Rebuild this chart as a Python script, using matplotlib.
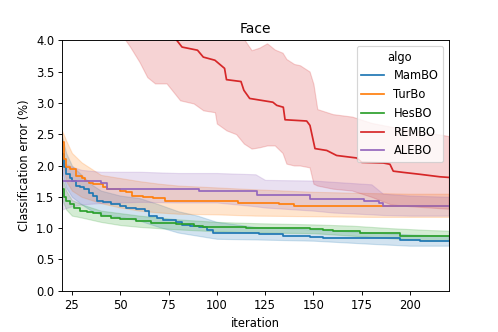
import numpy as np
import matplotlib
matplotlib.use("Agg")
import matplotlib.pyplot as plt


# ─── Data ─────────────────────────────────────────────────────────────────────
#
# Mean curves are stored as breakpoints (iteration, value).
# Confidence bands are stored as (iteration, lower, upper) samples.

algos  = ["MamBO", "TurBo", "HesBO", "REMBO", "ALEBO"]
colors = ["#1f77b4", "#ff7f0e", "#2ca02c", "#d62728", "#9467bd"]
styles = ["steps-post", "steps-post", "steps-post", "default", "steps-post"]

mambo_it  = [20, 21, 22, 24, 25, 27, 29, 31, 34, 36, 38, 41, 45, 50, 53, 58, 63, 65, 69, 72,
             79, 82, 86, 91, 95, 98, 115, 122, 134, 148, 155, 174, 195, 205, 220]
mambo_val = [2.19, 1.97, 1.87, 1.80, 1.76, 1.68, 1.65, 1.63, 1.56, 1.52, 1.44, 1.41, 1.39, 1.36,
             1.32, 1.30, 1.27, 1.20, 1.16, 1.13, 1.10, 1.05, 1.03, 1.02, 0.97, 0.93, 0.92, 0.91,
             0.88, 0.86, 0.85, 0.84, 0.81, 0.80, 0.80]

turbo_it  = [20, 21, 22, 24, 27, 30, 32, 34, 36, 41, 43, 50, 53, 56, 62, 67, 73, 111, 132, 140, 220]
turbo_val = [2.37, 2.10, 1.97, 1.95, 1.84, 1.80, 1.76, 1.72, 1.70, 1.65, 1.63, 1.60, 1.57, 1.52,
             1.50, 1.48, 1.43, 1.40, 1.38, 1.36, 1.36]

hesbo_it  = [20, 21, 22, 24, 26, 29, 33, 36, 40, 45, 50, 54, 58, 62, 66, 71, 79, 88, 93, 115,
             131, 148, 155, 160, 174, 195, 220]
hesbo_val = [1.63, 1.50, 1.44, 1.38, 1.32, 1.28, 1.26, 1.24, 1.20, 1.17, 1.15, 1.14, 1.12, 1.11,
             1.09, 1.08, 1.06, 1.04, 1.02, 1.01, 1.00, 0.99, 0.97, 0.95, 0.92, 0.88, 0.88]

# REMBO is drawn as a plain polyline through its corners (many small steps)
rembo_it  = [20, 50, 70, 78, 79.2, 82, 90, 93, 99, 104, 105, 112.5, 114, 117, 129, 131, 134.4,
             135.3, 146.5, 148.2, 150.8, 156.9, 162, 172.4, 175, 186.2, 189.6, 191.3, 196.5,
             205, 215.4, 220]
rembo_val = [5.30, 4.60, 4.25, 4.08, 4.00, 3.89, 3.84, 3.73, 3.68, 3.55, 3.37, 3.34, 3.20, 3.07,
             3.01, 2.96, 2.93, 2.73, 2.71, 2.64, 2.27, 2.24, 2.16, 2.12, 2.05, 2.04, 2.02, 1.91,
             1.89, 1.86, 1.82, 1.81]

alebo_it  = [20, 40, 43, 91, 121, 148, 176, 184, 186, 220]
alebo_val = [1.76, 1.72, 1.63, 1.59, 1.53, 1.47, 1.44, 1.40, 1.36, 1.36]

# confidence bands
mambo_band_it = [20, 22, 25, 30, 35, 40, 50, 60, 70, 80, 90, 100, 120, 150, 180, 200, 220]
mambo_lo = [1.90, 1.65, 1.50, 1.38, 1.28, 1.22, 1.18, 1.12, 1.02, 0.93, 0.88, 0.83, 0.82, 0.80, 0.75, 0.72, 0.72]
mambo_hi = [2.45, 2.20, 2.00, 1.85, 1.70, 1.60, 1.52, 1.48, 1.38, 1.27, 1.20, 1.10, 1.02, 0.98, 0.93, 0.90, 0.88]

turbo_band_it = [20, 22, 25, 30, 35, 40, 50, 60, 70, 80, 100, 120, 150, 180, 200, 220]
turbo_lo = [2.10, 1.75, 1.60, 1.50, 1.45, 1.40, 1.33, 1.28, 1.25, 1.23, 1.22, 1.20, 1.19, 1.18, 1.18, 1.18]
turbo_hi = [2.55, 2.40, 2.20, 2.05, 1.95, 1.85, 1.80, 1.75, 1.71, 1.68, 1.65, 1.62, 1.58, 1.56, 1.55, 1.55]

hesbo_band_it = [20, 22, 25, 30, 40, 50, 60, 70, 80, 100, 120, 150, 170, 190, 210, 220]
hesbo_lo = [1.45, 1.30, 1.20, 1.17, 1.10, 1.05, 1.02, 1.00, 0.98, 0.95, 0.93, 0.92, 0.88, 0.84, 0.80, 0.80]
hesbo_hi = [1.80, 1.60, 1.45, 1.38, 1.28, 1.24, 1.20, 1.17, 1.14, 1.10, 1.08, 1.06, 1.04, 1.00, 0.97, 0.96]

rembo_band_it = [20, 40, 50, 55, 60, 64, 68, 74, 81, 88, 93, 99, 100, 105, 110, 114, 118, 122,
                 126, 130, 134, 136, 140, 143, 148, 150, 152, 160, 170, 180, 190, 200, 210, 220]
rembo_lo = [5.50, 4.50, 4.12, 3.90, 3.65, 3.41, 3.31, 3.31, 3.04, 2.99, 2.88, 2.85, 2.67, 2.56,
            2.50, 2.35, 2.27, 2.29, 2.32, 2.32, 2.20, 2.03, 2.00, 2.00, 1.97, 1.71, 1.68, 1.63,
            1.60, 1.50, 1.38, 1.35, 1.33, 1.31]
rembo_hi = [6.50, 6.00, 5.80, 5.60, 5.40, 5.20, 5.00, 4.80, 4.60, 4.40, 4.30, 4.20, 4.15, 4.12,
            4.10, 4.02, 3.84, 3.88, 3.95, 3.85, 3.80, 3.70, 3.62, 3.60, 3.50, 3.30, 2.90, 2.82,
            2.78, 2.68, 2.62, 2.57, 2.52, 2.47]

alebo_band_it = [20, 25, 30, 40, 60, 80, 100, 120, 125, 150, 160, 180, 186, 200, 220]
alebo_lo = [1.30, 1.35, 1.38, 1.40, 1.42, 1.41, 1.41, 1.35, 1.33, 1.28, 1.25, 1.22, 1.21, 1.20, 1.20]
alebo_hi = [2.05, 1.98, 1.93, 1.90, 1.90, 1.88, 1.88, 1.86, 1.77, 1.76, 1.74, 1.70, 1.55, 1.52, 1.50]

curves = [
    (mambo_it, mambo_val, mambo_band_it, mambo_lo, mambo_hi),
    (turbo_it, turbo_val, turbo_band_it, turbo_lo, turbo_hi),
    (hesbo_it, hesbo_val, hesbo_band_it, hesbo_lo, hesbo_hi),
    (rembo_it, rembo_val, rembo_band_it, rembo_lo, rembo_hi),
    (alebo_it, alebo_val, alebo_band_it, alebo_lo, alebo_hi),
]


# ─── Plot ─────────────────────────────────────────────────────────────────────

fig, ax = plt.subplots(figsize=(6, 4), dpi=83)
fig.subplots_adjust(left=0.125, right=0.901, bottom=0.124, top=0.879)

for name, col, ds, (it, val, bit, lo, hi) in zip(algos, colors, styles, curves):
    ax.fill_between(bit, lo, hi, color=col, alpha=0.2)
    ax.plot(it, val, drawstyle=ds, color=col, lw=1.5, label=name)

ax.set_xlim(20, 220)
ax.set_ylim(0, 4)
ax.set_xticks([25, 50, 75, 100, 125, 150, 175, 200])
ax.set_yticks(np.arange(0, 4.01, 0.5))
ax.set_xlabel("iteration")
ax.set_ylabel("Classification error (%)")
ax.set_title("Face")
ax.legend(title="algo", loc="upper right")

fig.savefig("out.png")
